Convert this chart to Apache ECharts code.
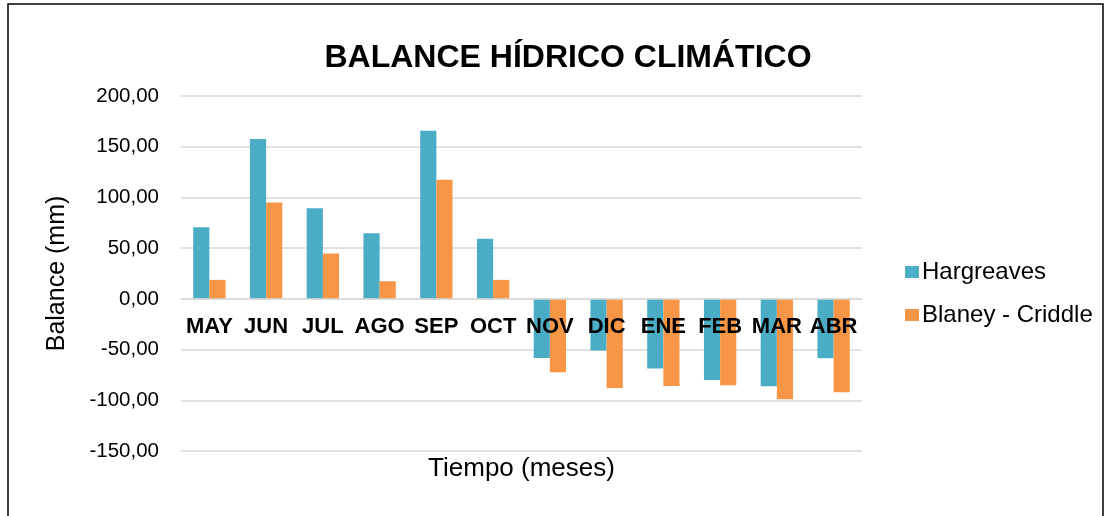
<!DOCTYPE html>
<html><head><meta charset="utf-8">
<script src="https://cdn.jsdelivr.net/npm/echarts@6/dist/echarts.min.js"></script>
<style>html,body{margin:0;padding:0;background:#fff}#c{width:1110px;height:516px}</style>
</head><body><div id="c"></div>
<script>
const categories = ['MAY','JUN','JUL','AGO','SEP','OCT','NOV','DIC','ENE','FEB','MAR','ABR'];
const hargreaves = [70.5, 157.6, 89.4, 64.8, 165.8, 59.2, -58.2, -51.0, -68.7, -79.9, -86.2, -58.6];
const blaneyCriddle = [18.7, 95.0, 44.7, 17.4, 117.5, 18.7, -72.4, -88.0, -85.8, -85.2, -99.0, -92.1];
const seriesNames = ['Hargreaves', 'Blaney - Criddle'];
const yTicks = {min: -150, max: 200, step: 50};

const W = 1110, H = 516;
const gridTop = 96, gridBottom = 65;
const gridH = H - gridTop - gridBottom;
// move the category axis (line, labels, name) up to the zero line
const zeroOffset = -gridH * (0 - yTicks.min) / (yTicks.max - yTicks.min);

const chart = echarts.init(document.getElementById('c'), null, {renderer: 'canvas'});
const font = 'Liberation Sans, Arial, sans-serif';
chart.setOption({
  animation: false,
  backgroundColor: '#fff',
  title: {
    text: 'BALANCE HÍDRICO CLIMÁTICO',
    left: 563, top: 37, textAlign: 'center',
    textStyle: {fontFamily: font, fontSize: 32, fontWeight: 'bold', color: '#000'}
  },
  graphic: [{
    type: 'rect', shape: {x: 8, y: 4, width: 1095, height: 530},
    style: {fill: 'none', stroke: '#000', lineWidth: 1.5}, silent: true
  }],
  legend: {
    orient: 'vertical', left: 905, top: 260, itemGap: 19, padding: 0,
    itemWidth: 14, itemHeight: 12, icon: 'rect',
    textStyle: {fontFamily: font, fontSize: 24, color: '#000', padding: [0, 0, 0, -2]},
    data: seriesNames
  },
  grid: {left: 181, right: 248, top: gridTop, bottom: gridBottom, containLabel: false, outerBoundsMode: 'none'},
  xAxis: {
    type: 'category', data: categories, z: 5,
    position: 'bottom', offset: zeroOffset,
    axisLine: {onZero: false, lineStyle: {color: '#d9d9d9', width: 1.5}},
    axisTick: {show: false},
    axisLabel: {fontFamily: font, fontSize: 22, fontWeight: 'bold', color: '#000', margin: 17, interval: 0},
    name: 'Tiempo (meses)', nameLocation: 'middle', nameGap: 157,
    nameTextStyle: {fontFamily: font, fontSize: 26, color: '#000'}
  },
  yAxis: {
    type: 'value', min: yTicks.min, max: yTicks.max, interval: yTicks.step,
    axisLine: {show: false}, axisTick: {show: false},
    splitLine: {lineStyle: {color: '#d9d9d9', width: 1.5}},
    axisLabel: {fontFamily: font, fontSize: 20.5, color: '#000', margin: 22,
      formatter: v => v.toFixed(2).replace('.', ',')},
    name: 'Balance (mm)', nameLocation: 'middle', nameGap: 111, nameRotate: 90,
    nameTextStyle: {fontFamily: font, fontSize: 25, color: '#000'}
  },
  series: [
    {name: seriesNames[0], type: 'bar', data: hargreaves, barGap: '0%', barCategoryGap: '43%',
      itemStyle: {color: '#4BACC6'}},
    {name: seriesNames[1], type: 'bar', data: blaneyCriddle, barGap: '0%', barCategoryGap: '43%',
      itemStyle: {color: '#F79646'}}
  ]
});
</script></body></html>
